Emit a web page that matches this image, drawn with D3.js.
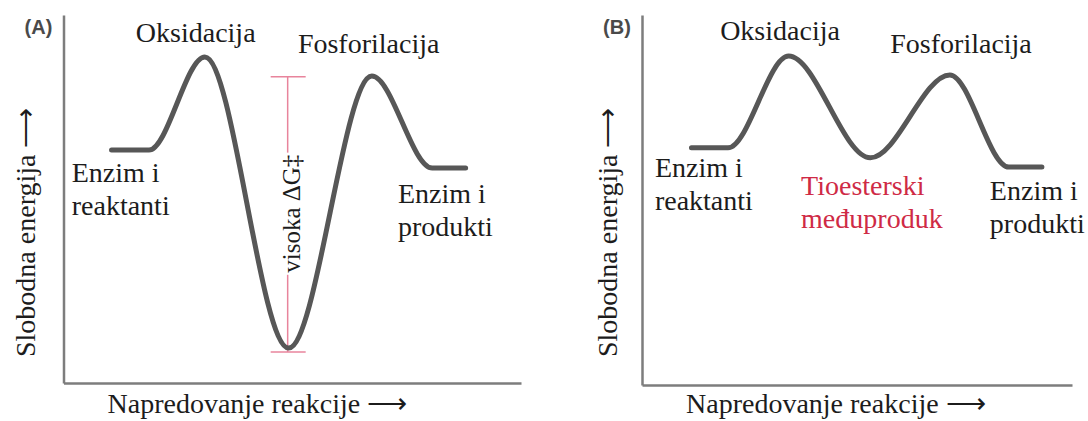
<!DOCTYPE html>
<html>
<head>
<meta charset="utf-8">
<script src="https://cdn.jsdelivr.net/npm/d3@7"></script>
<style>
  body { margin: 0; background: #fff; }
  svg { display: block; }
  .lbl { font-family: "Liberation Serif", "Times New Roman", serif; font-size: 28px; fill: #1c1c1c; }
  .tag { font-family: "Liberation Sans", Arial, sans-serif; font-size: 20px; font-weight: bold; fill: #4a4a4a; }
  .axis .domain { stroke: #7d7d7d; stroke-width: 2.5; }
</style>
</head>
<body>
<svg width="1088" height="421"></svg>
<script>
// reaction progress (x) and free energy (y), both in arbitrary 0..100 units
const progressA = [10.5, 18.7, 30.9, 49.2, 67.4, 80.6, 87.9];
const energyA = [63.3, 63.3, 88.6, 9.5, 83.4, 58.4, 58.4];
const progressB = [11.5, 20.0, 34.1, 53.1, 71.6, 85.3, 93.0];
const energyB = [64.1, 64.1, 88.9, 61.4, 83.8, 58.9, 58.9];

// high activation energy bar in panel A: [x, yBottom, yTop]
const barA = [49.0, 8.4, 83.2];

const panelTags = ['(A)', '(B)'];
const stepLabels = ['Oksidacija', 'Fosforilacija'];
const startLabel = ['Enzim i', 'reaktanti'];
const endLabel = ['Enzim i', 'produkti'];
const intermediateLabel = ['Tioesterski', 'međuproduk'];
const barLabel = 'visoka ΔG‡';
const xTitle = 'Napredovanje reakcije ⟶';
const yTitle = 'Slobodna energija ⟶';

const svg = d3.select('svg');

function makePanel(xRange, yRange) {
  const x = d3.scaleLinear().domain([0, 100]).range(xRange);
  const y = d3.scaleLinear().domain([0, 100]).range(yRange);
  const g = svg.append('g');

  g.append('g')
    .attr('class', 'axis')
    .attr('transform', `translate(0,${y(0)})`)
    .call(d3.axisBottom(x).tickValues([]).tickSizeOuter(0));
  g.append('g')
    .attr('class', 'axis')
    .attr('transform', `translate(${x(0)},0)`)
    .call(d3.axisLeft(y).tickValues([]).tickSizeOuter(0));

  return { x, y, g };
}

function drawCurve(p, xs, ys) {
  const line = d3
    .line()
    .x((d) => p.x(d[0]))
    .y((d) => p.y(d[1]))
    .curve(d3.curveMonotoneX);
  p.g.append('path')
    .datum(d3.zip(xs, ys))
    .attr('d', line)
    .attr('fill', 'none')
    .attr('stroke', '#575757')
    .attr('stroke-width', 5)
    .attr('stroke-linecap', 'round');
}

// multi line text, first baseline at (xv, yv) in data units
function label(p, lines, xv, yv, anchor, color) {
  const t = p.g.append('text')
    .attr('class', 'lbl')
    .attr('x', p.x(xv))
    .attr('y', p.y(yv))
    .style('text-anchor', anchor)
    .style('fill', color || null);
  lines.forEach((s, i) => {
    t.append('tspan')
      .attr('x', p.x(xv))
      .attr('dy', i === 0 ? 0 : 33)
      .text(s);
  });
  return t;
}

function titles(p, tag, yTitleGap) {
  p.g.append('text')
    .attr('class', 'tag')
    .attr('x', p.x(0) - 25)
    .attr('y', 34)
    .style('text-anchor', 'middle')
    .text(tag);
  p.g.append('text')
    .attr('class', 'lbl')
    .attr('x', p.x(0) + 44)
    .attr('y', 413)
    .text(xTitle);
  p.g.append('text')
    .attr('class', 'lbl')
    .attr('transform', `translate(${p.x(0) - yTitleGap},357) rotate(-90)`)
    .text(yTitle);
}

// ---- panel A
const a = makePanel([63.5, 521], [383, 15]);
titles(a, panelTags[0], 29);

const barG = a.g.append('g').attr('stroke', '#e8849c').attr('stroke-width', 1.5);
barG.append('line')
  .attr('x1', a.x(barA[0])).attr('x2', a.x(barA[0]))
  .attr('y1', a.y(barA[1])).attr('y2', a.y(barA[2]));
[barA[1], barA[2]].forEach((v) => {
  barG.append('line')
    .attr('x1', a.x(barA[0]) - 17).attr('x2', a.x(barA[0]) + 18)
    .attr('y1', a.y(v)).attr('y2', a.y(v));
});

drawCurve(a, progressA, energyA);

const bl = a.g.append('text')
  .attr('class', 'lbl')
  .style('font-size', '25px')
  .attr('transform', `translate(${a.x(barA[0]) + 12},${a.y(46)}) rotate(-90)`)
  .style('text-anchor', 'middle')
  .text(barLabel);
const bb = bl.node().getBBox();
a.g.insert('rect', 'text:last-of-type')
  .attr('transform', `translate(${a.x(barA[0]) + 12},${a.y(46)}) rotate(-90)`)
  .attr('x', bb.x - 2).attr('y', bb.y + 3)
  .attr('width', bb.width + 4).attr('height', bb.height - 6)
  .attr('fill', '#fff');
bl.raise();

label(a, [stepLabels[0]], 28.9, 92.7, 'middle');
label(a, [stepLabels[1]], 66.7, 89.7, 'middle');
label(a, startLabel, 1.8, 54.6, 'start');
label(a, endLabel, 73.1, 48.9, 'start');

// ---- panel B
const b = makePanel([642, 1072], [385, 15]);
titles(b, panelTags[1], 25);

drawCurve(b, progressB, energyB);

label(b, [stepLabels[0]], 32.1, 93.2, 'middle');
label(b, [stepLabels[1]], 74.2, 89.7, 'middle');
label(b, startLabel, 3.0, 56.2, 'start');
label(b, intermediateLabel, 37.0, 51.4, 'start', '#cf2a45');
label(b, endLabel, 80.9, 50.0, 'start');
</script>
</body>
</html>
